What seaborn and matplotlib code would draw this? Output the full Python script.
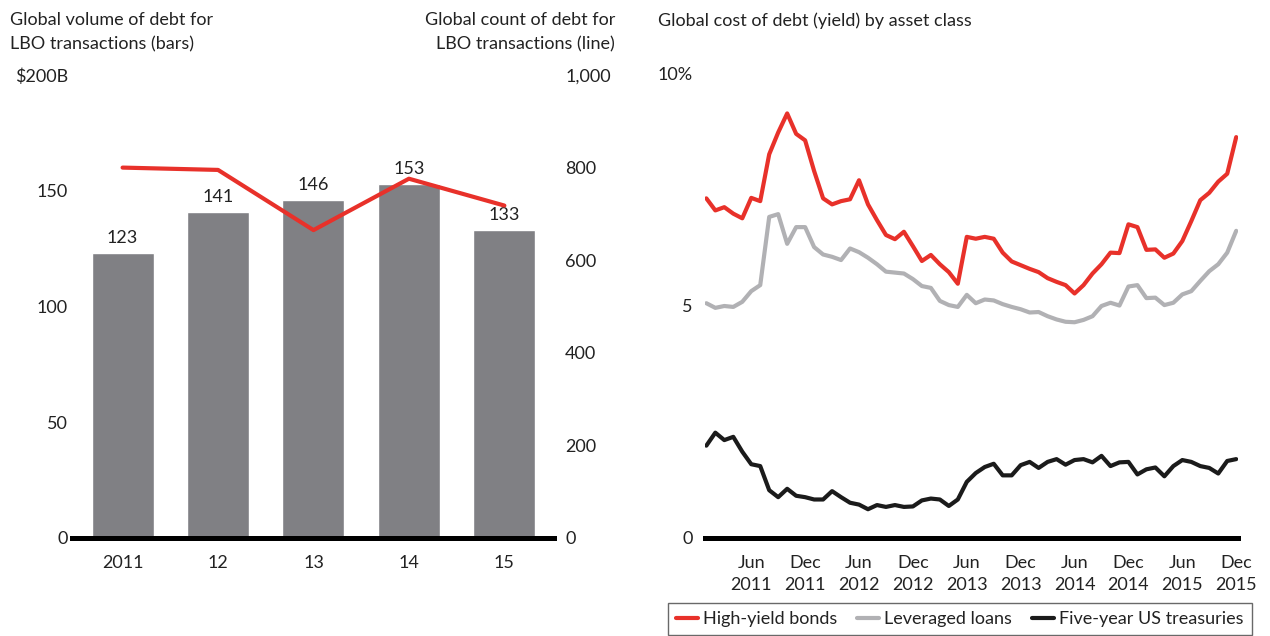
import matplotlib
matplotlib.use("Agg")
import matplotlib.pyplot as plt
import seaborn as sns
import numpy as np
import pandas as pd

# Left panel: LBO debt volume (bars, $B) and count (line)
years = ["2011", "12", "13", "14", "15"]
volume = [123, 141, 146, 153, 133]
count = [800, 795, 665, 776, 718]

# Right panel: monthly yields, Jan 2011 - Dec 2015 (%)
months = pd.date_range("2011-01-01", "2015-12-01", freq="MS")
high_yield = [7.32, 7.06, 7.13, 6.99, 6.89, 7.33, 7.26, 8.27, 8.74, 9.15, 8.71, 8.57,
              7.91, 7.32, 7.19, 7.26, 7.30, 7.71, 7.19, 6.85, 6.53, 6.44, 6.60, 6.29,
              5.97, 6.10, 5.90, 5.73, 5.48, 6.49, 6.45, 6.49, 6.45, 6.15, 5.96, 5.88,
              5.80, 5.73, 5.60, 5.52, 5.45, 5.27, 5.45, 5.70, 5.90, 6.15, 6.14, 6.76,
              6.70, 6.21, 6.22, 6.04, 6.13, 6.40, 6.83, 7.28, 7.44, 7.68, 7.85, 8.64]
lev_loans = [5.06, 4.96, 5.00, 4.98, 5.09, 5.32, 5.45, 6.92, 6.98, 6.34, 6.70, 6.70,
             6.27, 6.11, 6.06, 5.99, 6.24, 6.16, 6.04, 5.90, 5.74, 5.72, 5.70, 5.58,
             5.43, 5.39, 5.11, 5.02, 4.98, 5.24, 5.06, 5.14, 5.12, 5.04, 4.98, 4.93,
             4.86, 4.87, 4.78, 4.71, 4.66, 4.65, 4.70, 4.78, 5.00, 5.07, 5.01, 5.42,
             5.45, 5.17, 5.18, 5.02, 5.07, 5.25, 5.32, 5.54, 5.75, 5.90, 6.15, 6.62]
treasuries = [1.99, 2.27, 2.11, 2.18, 1.86, 1.59, 1.55, 1.03, 0.88, 1.06, 0.91, 0.88,
              0.83, 0.83, 1.01, 0.88, 0.76, 0.72, 0.62, 0.71, 0.67, 0.71, 0.67, 0.68,
              0.81, 0.85, 0.83, 0.69, 0.83, 1.21, 1.40, 1.53, 1.60, 1.35, 1.35, 1.57,
              1.64, 1.51, 1.64, 1.70, 1.58, 1.68, 1.70, 1.63, 1.77, 1.55, 1.63, 1.64,
              1.37, 1.48, 1.52, 1.33, 1.55, 1.68, 1.64, 1.55, 1.51, 1.39, 1.66, 1.70]
series_names = ["High-yield bonds", "Leveraged loans", "Five-year US treasuries"]

RED = "#e8312a"
GREY = "#b1b1b4"
BLACK = "#1b1b1b"
BAR = "#808084"
TEXT = "#222222"
FS = 13

sns.set_theme(style="white")
plt.rcParams["font.family"] = ["Lato", "DejaVu Sans"]
plt.rcParams["font.size"] = FS
plt.rcParams["xtick.labelsize"] = FS
plt.rcParams["ytick.labelsize"] = FS
plt.rcParams["text.color"] = TEXT
plt.rcParams["xtick.color"] = TEXT
plt.rcParams["ytick.color"] = TEXT

W, H = 1270, 636
fig = plt.figure(figsize=(W / 100, H / 100), dpi=100)


def px_axes(x0, x1, y_top, y_bot):
    return fig.add_axes([x0 / W, 1 - y_bot / H, (x1 - x0) / W, (y_bot - y_top) / H])


# ---- left panel ----
ax1 = px_axes(72, 554, 75, 538)
bars_df = pd.DataFrame({"year": years, "volume": volume})
sns.barplot(data=bars_df, x="year", y="volume", color=BAR, width=0.65,
            saturation=1, ax=ax1)
ax1.set_xlim(-0.53, 4.52)
ax1.set_ylim(0, 200)
ax1.set_yticks([0, 50, 100, 150, 200])
ax1.set_yticklabels(["0", "50", "100", "150", "$200B"])
ax1.set_xlabel("")
ax1.set_ylabel("")
for i, v in enumerate(volume):
    ax1.text(i, v + 3, str(v), ha="center", va="bottom", fontsize=FS)
for s in ["top", "right", "left"]:
    ax1.spines[s].set_visible(False)
ax1.spines["bottom"].set_color("black")
ax1.spines["bottom"].set_linewidth(3.6)
ax1.tick_params(axis="y", length=0, pad=3)
ax1.tick_params(axis="x", length=0, pad=12)

ax2 = ax1.twinx()
line_df = pd.DataFrame({"pos": np.arange(len(years)), "count": count})
sns.lineplot(data=line_df, x="pos", y="count", color=RED, linewidth=3, ax=ax2)
ax2.set_ylim(0, 1000)
ax2.set_yticks([0, 200, 400, 600, 800, 1000])
ax2.set_yticklabels(["0", "200", "400", "600", "800", "1,000"])
ax2.set_xlabel("")
ax2.set_ylabel("")
for s in ["top", "right", "left", "bottom"]:
    ax2.spines[s].set_visible(False)
ax2.tick_params(axis="y", length=0, pad=8)

fig.text(10 / W, 1 - 12 / H, "Global volume of debt for\nLBO transactions (bars)",
         ha="left", va="top", linespacing=1.6)
fig.text(615 / W, 1 - 12 / H, "Global count of debt for\nLBO transactions (line)",
         ha="right", va="top", linespacing=1.6)

# ---- right panel ----
ax3 = px_axes(705, 1238, 74, 538)
long_df = pd.DataFrame({
    "idx": np.tile(np.arange(len(months)), 3),
    "yield": high_yield + lev_loans + treasuries,
    "series": np.repeat(series_names, len(months)),
})
sns.lineplot(data=long_df, x="idx", y="yield", hue="series", hue_order=series_names,
             palette=[RED, GREY, BLACK], linewidth=3, ax=ax3, legend=False)
ax3.set_xlim(-0.15, 59.2)
ax3.set_ylim(0, 10)
ax3.set_yticks([0, 5, 10])
ax3.set_yticklabels(["0", "5", "10%"])
tick_idx = [i for i, m in enumerate(months) if m.month in (6, 12)]
ax3.set_xticks(tick_idx)
ax3.set_xticklabels([months[i].strftime("%b\n%Y") for i in tick_idx], linespacing=1.45)
ax3.set_xlabel("")
ax3.set_ylabel("")
for s in ["top", "right", "left"]:
    ax3.spines[s].set_visible(False)
ax3.spines["bottom"].set_color("black")
ax3.spines["bottom"].set_linewidth(3.6)
ax3.tick_params(axis="y", length=0, pad=9)
ax3.tick_params(axis="x", length=0, pad=12)

fig.text(658 / W, 1 - 12 / H, "Global cost of debt (yield) by asset class",
         ha="left", va="top")

handles = [plt.Line2D([], [], color=c, linewidth=3) for c in [RED, GREY, BLACK]]
leg = fig.legend(handles, series_names, loc="upper left",
                 bbox_to_anchor=(668 / W, 1 - 603 / H), ncol=3, frameon=True,
                 fancybox=False, handlelength=1.2, handletextpad=0.3,
                 columnspacing=1.1, borderpad=0.45, borderaxespad=0, fontsize=FS)
leg.get_frame().set_edgecolor("#444444")
leg.get_frame().set_linewidth(1.0)

fig.savefig("out.png", dpi=100)
